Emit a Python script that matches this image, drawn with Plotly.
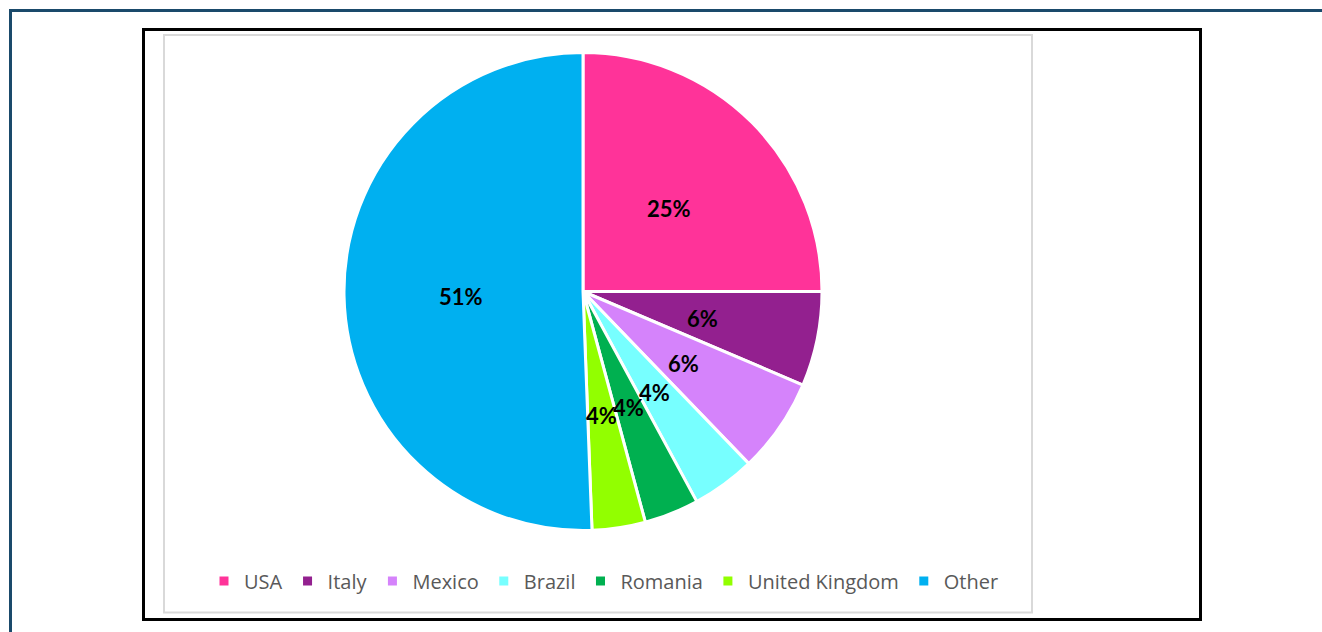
import math
import plotly.graph_objects as go

# ---- data ----
countries = ["USA", "Italy", "Mexico", "Brazil", "Romania", "United Kingdom", "Other"]
shares = [25.0, 6.4, 6.4, 4.3, 3.7, 3.6, 50.6]
colors = ["#FF3399", "#93208F", "#D583FB", "#77FFFF", "#00B050", "#92FF00", "#00B0F0"]

W, H = 1322, 632
CX, CY, R = 583, 291.5, 239  # pie centre / radius in px

fig = go.Figure()
fig.add_trace(go.Pie(
    labels=countries,
    values=shares,
    sort=False,
    direction="clockwise",
    rotation=0,
    marker=dict(colors=colors, line=dict(color="white", width=3)),
    textinfo="none",
    hoverinfo="label+percent",
    domain=dict(x=[(CX - R) / W, (CX + R) / W], y=[1 - (CY + R) / H, 1 - (CY - R) / H]),
))

# percentage labels placed along each slice's bisector
total = sum(shares)
annotations = []
cum = 0.0
for name, v in zip(countries, shares):
    mid = (cum + v / 2) / total * 2 * math.pi
    cum += v
    r = 0.51 * R
    px = CX + r * math.sin(mid)
    py = CY - r * math.cos(mid) + 3
    annotations.append(dict(
        x=px / W, y=1 - py / H, xref="paper", yref="paper",
        text=f"<b>{round(v / total * 100)}%</b>", showarrow=False,
        font=dict(family="Lato", size=22, color="black"),
        xanchor="center", yanchor="middle",
    ))

shapes = [
    # outer teal frame (top + left)
    dict(type="line", xref="paper", yref="paper", x0=10 / W, x1=1, y0=1 - 10.5 / H, y1=1 - 10.5 / H,
         line=dict(color="#1A4A6B", width=3), layer="below"),
    dict(type="line", xref="paper", yref="paper", x0=10.5 / W, x1=10.5 / W, y0=0, y1=1 - 9 / H,
         line=dict(color="#1A4A6B", width=3), layer="below"),
    # black frame
    dict(type="rect", xref="paper", yref="paper", x0=143.5 / W, x1=1200.5 / W, y0=1 - 619.5 / H, y1=1 - 29.5 / H,
         line=dict(color="black", width=3), layer="below"),
    # light grey chart area
    dict(type="rect", xref="paper", yref="paper", x0=164 / W, x1=1032 / W, y0=1 - 612.5 / H, y1=1 - 35 / H,
         line=dict(color="#D9D9D9", width=2), layer="below"),
]

fig.update_layout(
    width=W, height=H,
    margin=dict(l=0, r=0, t=0, b=0),
    paper_bgcolor="white",
    plot_bgcolor="white",
    showlegend=True,
    legend=dict(
        orientation="h", x=604 / W, xanchor="center", y=1 - 581 / H, yanchor="middle",
        font=dict(family="Open Sans", size=20, color="#595959"),
        itemwidth=30, traceorder="normal", bgcolor="rgba(0,0,0,0)",
    ),
    annotations=annotations,
    shapes=shapes,
)

fig.write_html("out.html")
